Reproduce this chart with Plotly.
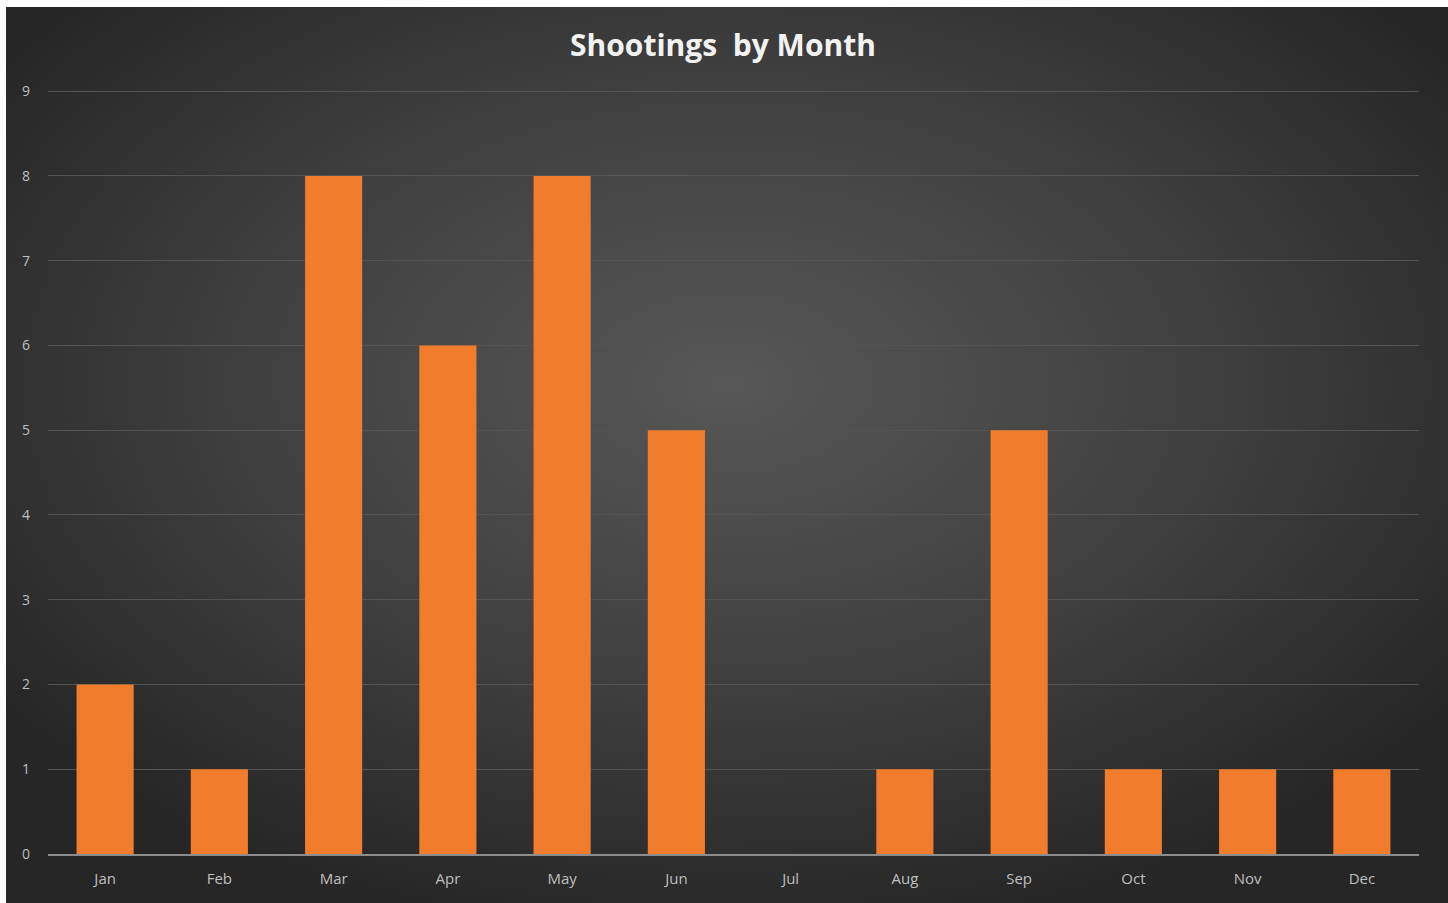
import base64
import plotly.graph_objects as go

months = ["Jan", "Feb", "Mar", "Apr", "May", "Jun", "Jul", "Aug", "Sep", "Oct", "Nov", "Dec"]
shootings = [2, 1, 8, 6, 8, 5, 0, 1, 5, 1, 1, 1]
y_ticks = list(range(0, 10))

W, H = 1448, 903
L, R, T, B = 48, 29, 87, 49
PW, PH = W - L - R, H - T - B
BX, BY = 6, 7  # white border left/top

svg = """<svg xmlns='http://www.w3.org/2000/svg' width='1442' height='896' preserveAspectRatio='none'>
<defs><radialGradient id='g' cx='50%' cy='42%' r='62%' fx='50%' fy='42%'>
<stop offset='0%' stop-color='#575757'/>
<stop offset='55%' stop-color='#3f3f3f'/>
<stop offset='100%' stop-color='#262626'/>
</radialGradient></defs>
<rect width='1442' height='896' fill='url(#g)'/></svg>"""
bg_uri = "data:image/svg+xml;base64," + base64.b64encode(svg.encode()).decode()

fig = go.Figure(
    go.Bar(
        x=months,
        y=shootings,
        marker=dict(color="#f07c2c", line=dict(width=0)),
        width=0.5,
    )
)

fig.update_layout(
    width=W,
    height=H,
    margin=dict(l=L, r=R, t=T, b=B),
    paper_bgcolor="#ffffff",
    plot_bgcolor="rgba(0,0,0,0)",
    images=[dict(source=bg_uri, xref="paper", yref="paper",
                 x=(BX - L) / PW, y=1 + (T - BY) / PH,
                 sizex=(W - BX) / PW, sizey=(H - BY) / PH,
                 xanchor="left", yanchor="top",
                 sizing="stretch", layer="below")],
    title=dict(text="<b>Shootings  by Month</b>", x=(723 - L) / PW, xanchor="center",
               xref="paper",
               y=1 - 45 / H, yanchor="middle", yref="container",
               font=dict(family="Open Sans", size=30, color="#f2f2f2")),
    font=dict(family="Open Sans", size=14, color="#bfbfbf"),
    showlegend=False,
    bargap=0.5,
)
fig.update_xaxes(showgrid=False, showline=True, linecolor="#8c8c8c", linewidth=1.5,
                 ticks="", tickfont=dict(size=15, color="#bfbfbf"), ticklabelstandoff=10)
fig.update_yaxes(range=[0, 9.05], tickvals=y_ticks, showgrid=True, gridcolor="#545454",
                 gridwidth=1, zeroline=False, showline=False, ticks="",
                 tickfont=dict(size=14, color="#bfbfbf"), ticklabelstandoff=17)

fig.write_html("out.html", config={"displayModeBar": False},
               post_script="document.body.style.margin='0';document.body.style.overflow='hidden';")
